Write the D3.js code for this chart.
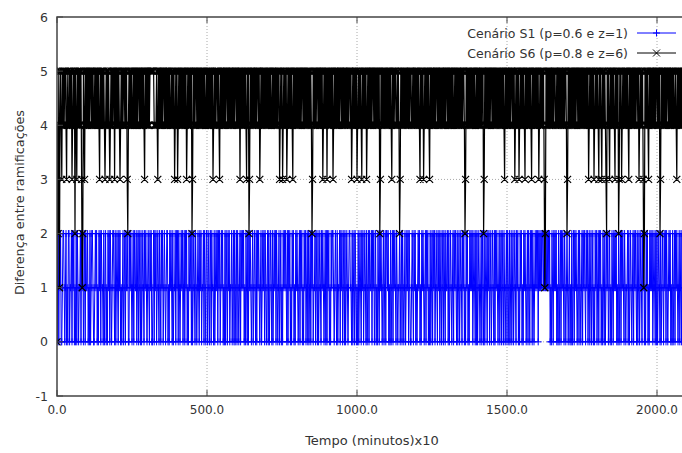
<!DOCTYPE html>
<html>
<head>
<meta charset="utf-8">
<script src="https://cdn.jsdelivr.net/npm/d3@7"></script>
<style>
  body { margin: 0; background: #fff; }
  text { font-family: "DejaVu Sans", sans-serif; fill: #333; }
</style>
</head>
<body>
<div id="chart"></div>
<script>
// sampling interval of the series (time units, minutos x10)
const sampleStep = 2;

// Cenário S1 (p=0.6 e z=1) - one string per 100 time units
const s1Segments = [
    "0120212001 2210120102 2011202120 1020210112 0212012021",
    "1201020122 1001212010 2120211020 1201021202 1012210201",
    "2102120101 2012021120 0212101202 1120120210 2012102121",
    "0121021200 1202120121 0210212012 1012201021 2102011202",
    "1202101212 0120212010 2112020121 0210121021 2011202102",
    "2012012021 1020121202 1201212010 2021021201 1201202012",
    "0210120212 1201021020 2121012012 1020212101 2012120210",
    "1202012102 0121202101 2012010212 1210202120 1021201021",
    "2101202120 1021201202 0120212011 2021020121 0212101202",
    "0212010212 2101210201 1202120120 2012101221 1020120210",
    "1020121021 2012102012 0211202120 1201021021 2101201202",
    "2120102012 0212102101 1201202101 2012120210 0121021201",
    "0121201021 2101202120 1020120212 0121021201 2012021021",
    "1202012101 2021210201 2012102120 1021201021 2120121020",
    "2012101202 1020121021 2012012102 0212101201 2021021012",
    "0210201201 2012102120 1021201021 2101202102 1202101212",
    "1202121212 2121121212 1201021021 2120102012 0212102101",
    "2101201020 1202121012 0210120212 1021201201 2012010212",
    "0120212010 2102012120 1201021021 2120102012 0212102101",
    "1202012101 2021210201 2012102120 1021201021 2120121020",
    "2012102012 1021202101 2120102012 0212101201 2021021012"
];

// Cenário S6 (p=0.8 e z=6)
const s6Segments = [
    "0425145435 4545543544 5454534545 2543545454 5312543545",
    "4545455454 5445454545 4354545454 3454545434 5454553545",
    "4545434545 4554545324 5454544545 4545455454 5454543545",
    "4545455555 5544445435 4545454554 5454545454 4545453454",
    "5345454545 4545453454 5454523545 4554545454 5454545445",
    "4545454545 3454545545 4354545454 5455454545 4545454554",
    "5454535454 5454543545 2354545454 5454554534 5454545454",
    "5454545445 4545454545 5345453454 5453454545 4543545454",
    "5454545455 4545454545 4545423545 4545545454 5453454545",
    "3545454545 3454545454 5455454545 4545454554 5345454545",
    "3454545435 4545453454 5454545545 4545454523 5454545454",
    "5454545435 4545544545 4235454545 4545454545 5445454545",
    "4545435454 5345454545 4354545454 5455454545 4545454545",
    "5454545454 5445454545 4545454554 2354545454 5454545445",
    "4545454545 5235454545 4545545454 5454545454 5454543545",
    "4545454554 5453454545 3454545454 3545454545 4354545454",
    "5453454545 4531254545 4545454545 5445454545 4545454554",
    "2354545454 5454545545 4545454545 4545453454 5454534545",
    "4543545435 4545432545 4354545454 3545452354 5345454545",
    "4543545454 5454545545 3454545312 5454543545 4545454545",
    "5454523545 4545454554 5454545454 4543545454 5454545445"
];

const xTicks = [0, 500, 1000, 1500, 2000];
const yTicks = [-1, 0, 1, 2, 3, 4, 5, 6];
const seriesNames = ["Cenário S1 (p=0.6 e z=1)", "Cenário S6 (p=0.8 e z=6)"];
const seriesColors = ["#0000ff", "#000000"];
const seriesWidths = [1, 1.2];

function toPoints(segments) {
    return segments.join("").replace(/\s/g, "").split("").map((c, i) => ({ t: i * sampleStep, v: +c }));
}

const series = [toPoints(s1Segments), toPoints(s6Segments)];

const width = 682, height = 453;
const margin = { top: 17, right: -5, bottom: 57, left: 57 };

const svg = d3.select("#chart")
    .append("svg")
    .attr("width", width)
    .attr("height", height);

svg.append("rect").attr("width", width).attr("height", height).attr("fill", "#fff");

const x = d3.scaleLinear().domain([0, 2100]).range([margin.left, width - margin.right]);
const y = d3.scaleLinear().domain([-1, 6]).range([height - margin.bottom, margin.top]);

// grid
svg.append("g")
    .selectAll("line")
    .data(xTicks.slice(1))
    .join("line")
    .attr("x1", d => x(d)).attr("x2", d => x(d))
    .attr("y1", y(-1)).attr("y2", y(6))
    .attr("stroke", "#aaa")
    .attr("stroke-dasharray", "1,2");

svg.append("g")
    .selectAll("line")
    .data(yTicks.slice(1, -1))
    .join("line")
    .attr("x1", x(0)).attr("x2", x(2100))
    .attr("y1", d => y(d)).attr("y2", d => y(d))
    .attr("stroke", "#aaa")
    .attr("stroke-dasharray", "1,2");

// clip to plot area
svg.append("clipPath").attr("id", "clip")
    .append("rect")
    .attr("x", x(0)).attr("y", y(6) - 5)
    .attr("width", x(2100) - x(0)).attr("height", y(-1) - y(6) + 5);

const plot = svg.append("g").attr("clip-path", "url(#clip)");

const line = d3.line().x(d => x(d.t)).y(d => y(d.v));

function plusPath(px, py, r) { return `M${px - r},${py}h${2 * r}M${px},${py - r}v${2 * r}`; }
function crossPath(px, py, r) { return `M${px - r},${py - r}l${2 * r},${2 * r}M${px - r},${py + r}l${2 * r},${-2 * r}`; }
const markers = [plusPath, crossPath];

series.forEach((pts, k) => {
    plot.append("path")
        .datum(pts)
        .attr("d", line)
        .attr("fill", "none")
        .attr("stroke", seriesColors[k])
        .attr("stroke-width", seriesWidths[k]);

    plot.append("path")
        .attr("d", pts.map(d => markers[k](x(d.t), y(d.v), 3.5)).join(""))
        .attr("fill", "none")
        .attr("stroke", seriesColors[k])
        .attr("stroke-width", seriesWidths[k]);
});

// border
const border = "#444";
svg.append("path")
    .attr("d", `M${x(2100)},${y(6)}H${x(0)}V${y(-1)}H${x(2100)}`)
    .attr("fill", "none")
    .attr("stroke", border)
    .attr("stroke-width", 1.5);

// ticks
svg.append("g").selectAll("path")
    .data(xTicks)
    .join("path")
    .attr("d", d => `M${x(d)},${y(-1)}v-6M${x(d)},${y(6)}v6`)
    .attr("stroke", border);

svg.append("g").selectAll("path")
    .data(yTicks)
    .join("path")
    .attr("d", d => `M${x(0)},${y(d)}h6`)
    .attr("stroke", border);

// tick labels
svg.append("g").selectAll("text")
    .data(xTicks)
    .join("text")
    .attr("x", d => x(d))
    .attr("y", y(-1) + 18)
    .attr("text-anchor", "middle")
    .attr("font-size", 12)
    .text(d => d3.format(".1f")(d));

svg.append("g").selectAll("text")
    .data(yTicks)
    .join("text")
    .attr("x", x(0) - 9)
    .attr("y", d => y(d) + 4.5)
    .attr("text-anchor", "end")
    .attr("font-size", 12.5)
    .text(d => d);

// axis titles
svg.append("text")
    .attr("x", (x(0) + x(2100)) / 2)
    .attr("y", 445)
    .attr("text-anchor", "middle")
    .attr("font-size", 13)
    .text("Tempo (minutos)x10");

svg.append("text")
    .attr("transform", `translate(24,${(y(6) + y(-1)) / 2 - 4}) rotate(-90)`)
    .attr("text-anchor", "middle")
    .attr("font-size", 12.8)
    .text("Diferença entre ramificações");

// legend
const legend = svg.append("g");
seriesNames.forEach((name, k) => {
    const ly = 33 + k * 20;
    legend.append("text")
        .attr("x", 628)
        .attr("y", ly + 4.5)
        .attr("text-anchor", "end")
        .attr("font-size", 12.5)
        .text(name);
    legend.append("path")
        .attr("d", `M637,${ly}H676` + markers[k](656.5, ly, 3.5))
        .attr("fill", "none")
        .attr("stroke", seriesColors[k]);
});
</script>
</body>
</html>
